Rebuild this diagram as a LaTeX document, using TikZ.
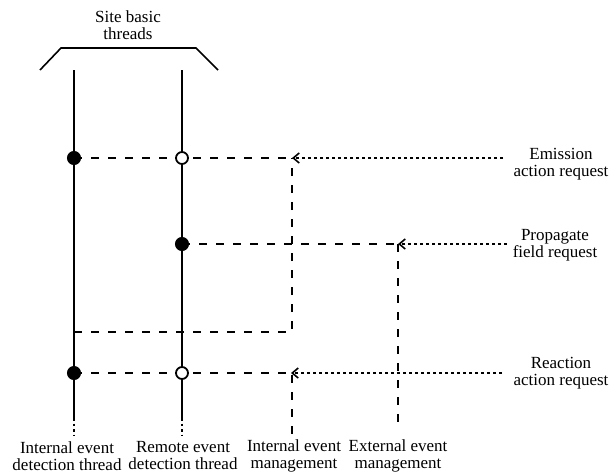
\documentclass[tikz,border=0pt]{standalone}
\usepackage{fontspec}
\setmainfont{Liberation Serif}
\usetikzlibrary{arrows.meta,backgrounds}
\begin{document}
\begin{tikzpicture}[x=1pt,y=-1pt,
  lbl/.style={font=\fontsize{17}{17}\selectfont, align=center, inner sep=0pt},
  thread/.style={line width=2pt},
  bracket/.style={line width=1.6pt},
  dashln/.style={line width=1.8pt, dash pattern=on 8pt off 9pt},
  dotln/.style={line width=1.4pt, dash pattern=on 3pt off 3pt},
  tail/.style={line width=1.2pt, dash pattern=on 2.5pt off 3pt},
  req/.style={dotln, -{Straight Barb[length=6pt,width=10pt,line width=1.6pt]}},
  fdot/.style={circle, fill=black, draw=black, line width=1pt, minimum size=13pt, inner sep=0pt},
  odot/.style={circle, fill=white, draw=black, line width=1.8pt, minimum size=12pt, inner sep=0pt}]
\useasboundingbox (0,0) rectangle (610,474);

% bracket over the two site threads
\coordinate (bL) at (40,70);
\coordinate (bLc) at (61,48);
\coordinate (bRc) at (196,48);
\coordinate (bR) at (218,70);
\draw[bracket] (bL) -- (bLc) -- (bRc) -- (bR);
\node[lbl] (title) at (128,25) {Site basic\\threads};

% thread end points
\coordinate (iTop) at (74,70);
\coordinate (iEnd) at (74,418);
\coordinate (iFoot) at (74,435);
\coordinate (rTop) at (182,70);
\coordinate (rEnd) at (182,418);
\coordinate (rFoot) at (182,435);

% event points on the threads
\node[fdot] (e1) at (74,158) {};
\node[odot] (e2) at (182,158) {};
\node[fdot] (p1) at (182,244) {};
\node[fdot] (r1) at (74,373) {};
\node[odot] (r2) at (182,373) {};

% management lines
\coordinate (eM) at (292,158);
\coordinate (jM) at (292,332);
\coordinate (jL) at (74,332);
\coordinate (pM) at (398,244);
\coordinate (pFoot) at (398,428);
\coordinate (rM) at (291,373);
\coordinate (rMtop) at (292,375);
\coordinate (rMfoot) at (292,435);

% request sources
\coordinate (eS) at (503,158);
\coordinate (pS) at (507,244);
\coordinate (rS) at (502,373);

\begin{pgfonlayer}{background}
  \draw[thread] (iTop) -- (iEnd);
  \draw[tail] (iEnd) -- (iFoot);
  \draw[thread] (rTop) -- (rEnd);
  \draw[tail] (rEnd) -- (rFoot);

  \draw[dashln] (e1.center) -- (eM);
  \draw[dashln] (jL) -- (jM) -- (eM);
  \draw[dashln] (p1.center) -- (pM);
  \draw[dashln] (pM) -- (pFoot);
  \draw[dashln] (r1.center) -- (rM);
  \draw[dashln] (rMtop) -- (rMfoot);
\end{pgfonlayer}

\draw[req] (eS) -- (eM);
\draw[req] (pS) -- (pM);
\draw[req] (rS) -- (rM);

\node[lbl] (emis) at (561,164) {Emission\\action request};
\node[lbl] (prop) at (555,245) {Propagate\\field request};
\node[lbl] (reac) at (561,373) {Reaction\\action request};

\node[lbl] (iLbl) at (67,456) {Internal event\\detection thread};
\node[lbl] (rLbl) at (183,456) {Remote event\\detection thread};
\node[lbl] (imLbl) at (294,456) {Internal event\\management};
\node[lbl] (emLbl) at (398,456) {External event\\management};
\end{tikzpicture}
\end{document}
